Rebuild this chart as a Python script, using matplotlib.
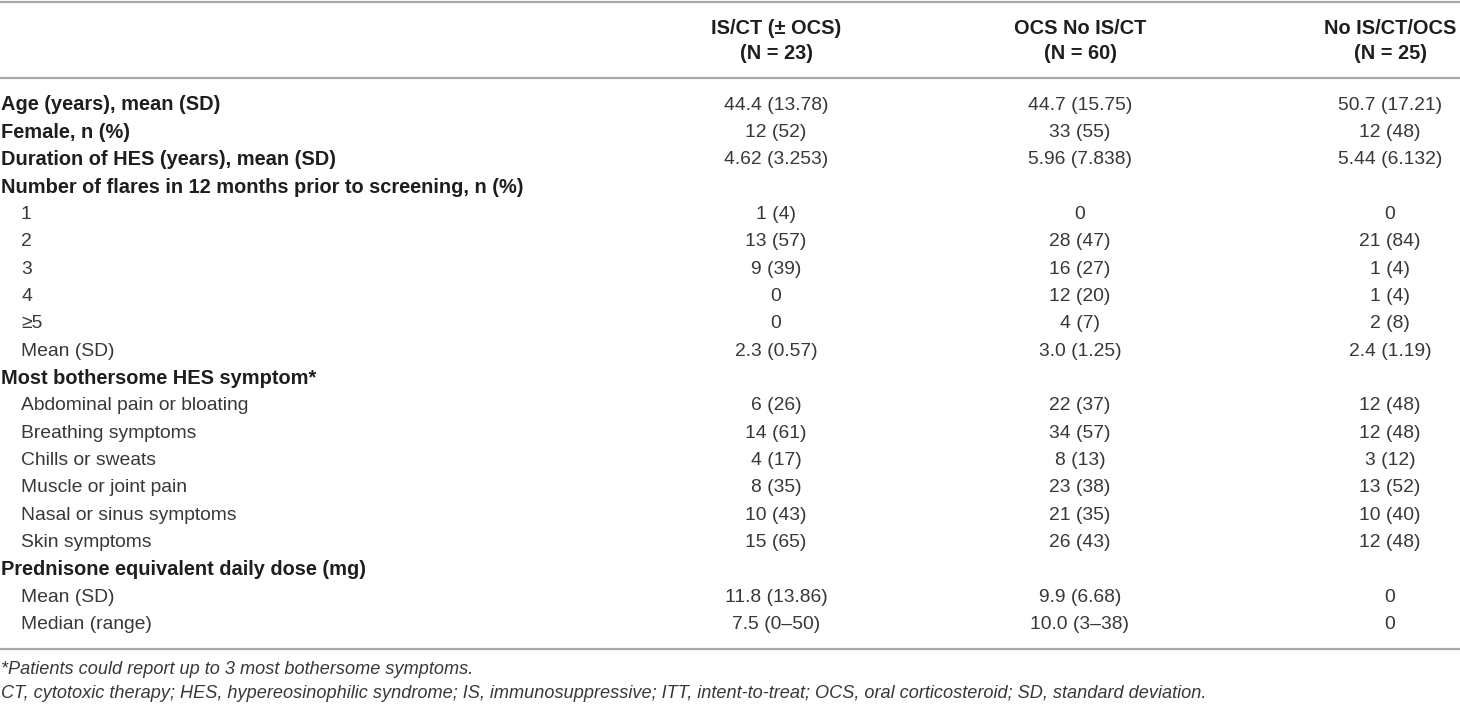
import matplotlib
matplotlib.use("Agg")
import matplotlib.pyplot as plt

plt.rcParams["font.family"] = ["Liberation Sans", "DejaVu Sans"]

# table content
col_headers = ["IS/CT (\u00b1 OCS)\n(N = 23)", "OCS No IS/CT\n(N = 60)", "No IS/CT/OCS\n(N = 25)"]

row_labels = [
    "Age (years), mean (SD)",
    "Female, n (%)",
    "Duration of HES (years), mean (SD)",
    "Number of flares in 12 months prior to screening, n (%)",
    "1", "2", "3", "4", "\u22655", "Mean (SD)",
    "Most bothersome HES symptom*",
    "Abdominal pain or bloating",
    "Breathing symptoms",
    "Chills or sweats",
    "Muscle or joint pain",
    "Nasal or sinus symptoms",
    "Skin symptoms",
    "Prednisone equivalent daily dose (mg)",
    "Mean (SD)",
    "Median (range)",
]
bold_rows = [0, 1, 2, 3, 10, 17]

is_ct = ["44.4 (13.78)", "12 (52)", "4.62 (3.253)", "", "1 (4)", "13 (57)", "9 (39)", "0", "0",
         "2.3 (0.57)", "", "6 (26)", "14 (61)", "4 (17)", "8 (35)", "10 (43)", "15 (65)", "",
         "11.8 (13.86)", "7.5 (0\u201350)"]
ocs_only = ["44.7 (15.75)", "33 (55)", "5.96 (7.838)", "", "0", "28 (47)", "16 (27)", "12 (20)", "4 (7)",
            "3.0 (1.25)", "", "22 (37)", "34 (57)", "8 (13)", "23 (38)", "21 (35)", "26 (43)", "",
            "9.9 (6.68)", "10.0 (3\u201338)"]
no_treat = ["50.7 (17.21)", "12 (48)", "5.44 (6.132)", "", "0", "21 (84)", "1 (4)", "1 (4)", "2 (8)",
            "2.4 (1.19)", "", "12 (48)", "12 (48)", "3 (12)", "13 (52)", "10 (40)", "12 (48)", "",
            "0", "0"]

footnotes = [
    "*Patients could report up to 3 most bothersome symptoms.",
    "CT, cytotoxic therapy; HES, hypereosinophilic syndrome; IS, immunosuppressive; ITT, intent-to-treat; "
    "OCS, oral corticosteroid; SD, standard deviation.",
]

W, H = 1460, 706
fig = plt.figure(figsize=(W / 100, H / 100), dpi=100)
ax = fig.add_axes([0, 0, 1, 1])
ax.set_xlim(0, W)
ax.set_ylim(H, 0)
ax.axis("off")

fs_bold = 14.4
fs_body = 13.9
fs_note = 13.1
dark = "#1e1e1e"
body = "#383838"
rule = "#a6a6a6"

col_x = [776, 1080, 1390]
row_y0, row_h = 105, 27.35

# rules
for y in [1.5, 78, 649]:
    ax.plot([0, W], [y, y], color=rule, lw=1.6, solid_capstyle="butt")

# header
for x, h in zip(col_x, col_headers):
    ax.text(x, 41, h, ha="center", va="center", fontsize=fs_bold, fontweight="bold",
            color=dark, linespacing=1.4)

# body rows
columns = [is_ct, ocs_only, no_treat]
for i, label in enumerate(row_labels):
    y = row_y0 + i * row_h
    if i in bold_rows:
        ax.text(1, y, label, ha="left", va="center", fontsize=fs_bold, fontweight="bold", color=dark)
    else:
        ax.text(21, y, label, ha="left", va="center", fontsize=fs_body, color=body)
    for x, col in zip(col_x, columns):
        if col[i]:
            ax.text(x, y, col[i], ha="center", va="center", fontsize=fs_body, color=body)

# footnotes
for j, note in enumerate(footnotes):
    ax.text(1, 669 + j * 25, note, ha="left", va="center", fontsize=fs_note, style="italic", color=body)

fig.savefig("out.png", dpi=100)
